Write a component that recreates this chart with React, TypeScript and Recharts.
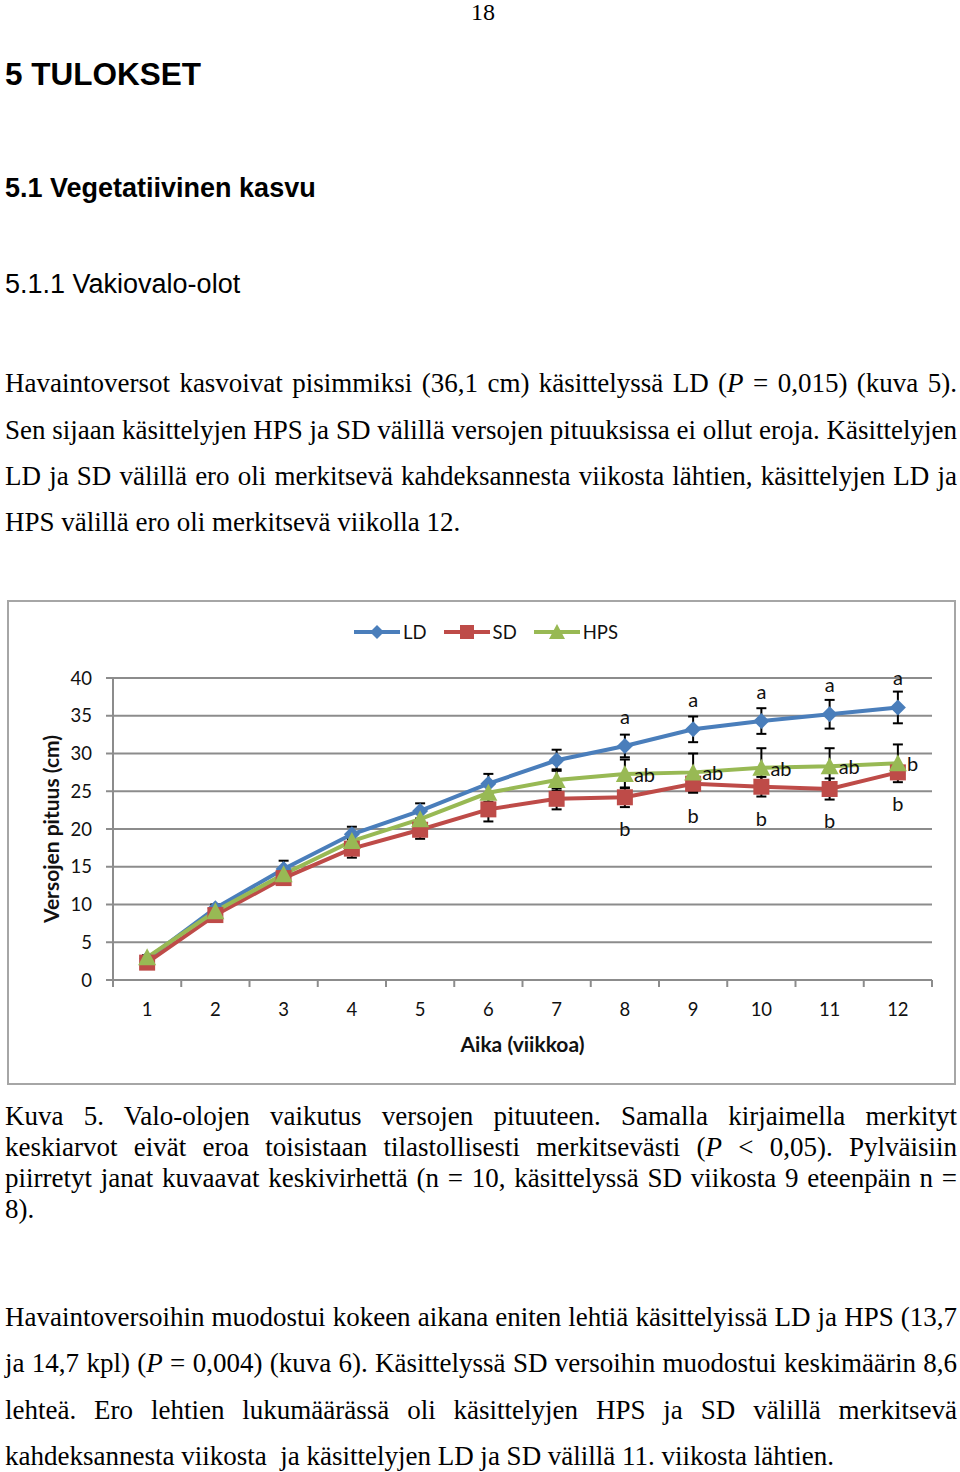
import React from 'react';
import { LineChart, Line, XAxis, YAxis, CartesianGrid, ErrorBar, LabelList, Legend } from 'recharts';

const weeks = [1, 2, 3, 4, 5, 6, 7, 8, 9, 10, 11, 12];
const ldValues = [2.8, 9.5, 14.7, 19.3, 22.4, 26.0, 29.1, 31.0, 33.2, 34.3, 35.2, 36.1];
const sdValues = [2.3, 8.6, 13.5, 17.4, 19.9, 22.6, 24.0, 24.2, 26.0, 25.6, 25.3, 27.5];
const hpsValues = [3.0, 9.1, 14.0, 18.4, 21.3, 24.8, 26.5, 27.3, 27.5, 28.1, 28.3, 28.7];
const ldErrors = [0.3, 0.5, 1.1, 1.0, 1.0, 1.3, 1.4, 1.5, 1.7, 1.7, 1.9, 2.1];
const sdErrors = [0.3, 0.5, 0.8, 1.2, 1.2, 1.6, 1.4, 1.3, 1.2, 1.3, 1.4, 0.8];
const hpsErrors = [0.3, 0.5, 0.8, 1.0, 1.1, 1.2, 1.4, 1.9, 2.5, 2.6, 2.4, 2.5];
const ldLetters = ['', '', '', '', '', '', '', 'a', 'a', 'a', 'a', 'a'];
const sdLetters = ['', '', '', '', '', '', '', 'b', 'b', 'b', 'b', 'b'];
const hpsLetters = ['', '', '', '', '', '', '', 'ab', 'ab', 'ab', 'ab', 'b'];
const seriesOrder = ['LD', 'SD', 'HPS'];
const yTicks = [0, 5, 10, 15, 20, 25, 30, 35, 40];
const xTicks = [0.5, 1, 1.5, 2, 2.5, 3, 3.5, 4, 4.5, 5, 5.5, 6, 6.5, 7, 7.5, 8, 8.5, 9, 9.5, 10, 10.5, 11, 11.5, 12, 12.5];

const data = weeks.map((w, i) => ({
  week: w,
  LD: ldValues[i],
  SD: sdValues[i],
  HPS: hpsValues[i],
  ldErr: ldErrors[i],
  sdErr: sdErrors[i],
  hpsErr: hpsErrors[i],
  ldLetter: ldLetters[i],
  sdLetter: sdLetters[i],
  hpsLetter: hpsLetters[i],
}));

const C_LD = '#4A7EBB';
const C_SD = '#BE4B48';
const C_HPS = '#98B954';
const GRID = '#8C8C8C';
const CHART_FONT = 'Lato, "Open Sans", sans-serif';

const shapes: Record<string, string> = { LD: 'diamond', SD: 'square', HPS: 'triangle' };

const Marker = ({ cx, cy, shape, color, s = 8 }: any) => {
  if (shape === 'diamond') {
    return <polygon points={`${cx},${cy - s} ${cx + s},${cy} ${cx},${cy + s} ${cx - s},${cy}`} fill={color} />;
  }
  if (shape === 'square') {
    return <rect x={cx - s} y={cy - s} width={2 * s} height={2 * s} fill={color} />;
  }
  return <polygon points={`${cx},${cy - s - 1} ${cx + s + 1},${cy + s} ${cx - s - 1},${cy + s}`} fill={color} />;
};

const makeDot = (shape: string, color: string) => (p: any) => (
  <Marker key={`${shape}-${p.index}`} cx={p.cx} cy={p.cy} shape={shape} color={color} />
);

const getXY = (p: any) => {
  const x = p.viewBox && p.viewBox.x !== undefined ? p.viewBox.x : p.x;
  const y = p.viewBox && p.viewBox.y !== undefined ? p.viewBox.y : p.y;
  return { x, y };
};

const labelStyle = { fontFamily: CHART_FONT, fontSize: 20, fill: '#111' };

const AboveLabel = (p: any) => {
  if (!p.value) return null;
  const { x, y } = getXY(p);
  return <text x={x} y={y - 30} textAnchor="middle" dominantBaseline="central" style={labelStyle}>{p.value}</text>;
};
const BelowLabel = (p: any) => {
  if (!p.value) return null;
  const { x, y } = getXY(p);
  return <text x={x} y={y + 31} textAnchor="middle" dominantBaseline="central" style={labelStyle}>{p.value}</text>;
};
const RightLabel = (p: any) => {
  if (!p.value) return null;
  const { x, y } = getXY(p);
  return <text x={x + 9} y={y} textAnchor="start" dominantBaseline="central" style={labelStyle}>{p.value}</text>;
};

const XTick = (p: any) => {
  const { x, y, payload } = p;
  const v = payload.value;
  if (Number.isInteger(v)) {
    return <text x={x} y={y + 29} textAnchor="middle" dominantBaseline="central" style={{ fontFamily: CHART_FONT, fontSize: 18.5, fill: '#111' }}>{v}</text>;
  }
  return <line x1={x} y1={y} x2={x} y2={y + 7} stroke={GRID} strokeWidth={2} />;
};

const LegendContent = (props: any) => {
  const payload = [...(props.payload || [])].sort(
    (a: any, b: any) => seriesOrder.indexOf(a.value) - seriesOrder.indexOf(b.value)
  );
  return (
    <div style={{ display: 'flex', justifyContent: 'center', alignItems: 'center', height: 24, paddingLeft: 26, fontFamily: CHART_FONT, fontSize: 18.5, color: '#111' }}>
      {payload.map((p: any) => (
        <div key={p.value} style={{ display: 'flex', alignItems: 'center', marginRight: 17 }}>
          <svg width={46} height={20} style={{ display: 'block' }}>
            <line x1={0} y1={10} x2={46} y2={10} stroke={p.color} strokeWidth={4} />
            <Marker cx={23} cy={10} shape={shapes[p.value]} color={p.color} s={7} />
          </svg>
          <span style={{ marginLeft: 3 }}>{p.value}</span>
        </div>
      ))}
    </div>
  );
};

const textLine = (center: number, lh: number) => ({
  position: 'absolute' as const,
  left: 5,
  width: 952,
  top: center - lh / 2,
  height: lh,
  lineHeight: `${lh}px`,
  fontFamily: '"Liberation Serif", "Times New Roman", serif',
  fontSize: 27,
  color: '#000',
  textAlign: 'justify' as const,
  whiteSpace: 'nowrap' as const,
  overflow: 'visible',
});

const JL = ({ c, lh, last, children }: any) => (
  <div style={{ ...textLine(c, lh), textAlignLast: last ? 'left' : 'justify' } as any}>{children}</div>
);

const P = () => <i>P</i>;

export default function App() {
  return (
    <div style={{ position: 'absolute', left: 0, top: 0, width: 960, height: 1472, background: '#fff', overflow: 'hidden' }}>
      <div style={{ position: 'absolute', left: 0, width: 966, top: 0, textAlign: 'center', fontFamily: '"Liberation Serif", serif', fontSize: 24, lineHeight: '24px' }}>18</div>
      <div style={{ position: 'absolute', left: 5, top: 54, fontFamily: '"Liberation Sans", Arial, sans-serif', fontWeight: 'bold', fontSize: 31.5, lineHeight: '40px' }}>5 TULOKSET</div>
      <div style={{ position: 'absolute', left: 5, top: 171, fontFamily: '"Liberation Sans", Arial, sans-serif', fontWeight: 'bold', fontSize: 27, lineHeight: '34px' }}>5.1 Vegetatiivinen kasvu</div>
      <div style={{ position: 'absolute', left: 5, top: 267, fontFamily: '"Liberation Sans", Arial, sans-serif', fontSize: 27, lineHeight: '34px' }}>5.1.1 Vakiovalo-olot</div>

      <JL c={383} lh={46}>Havaintoversot kasvoivat pisimmiksi (36,1 cm) käsittelyssä LD (<P /> = 0,015) (kuva 5).</JL>
      <JL c={430} lh={46}>Sen sijaan käsittelyjen HPS ja SD välillä versojen pituuksissa ei ollut eroja. Käsittelyjen</JL>
      <JL c={476} lh={46}>LD ja SD välillä ero oli merkitsevä kahdeksannesta viikosta lähtien, käsittelyjen LD ja</JL>
      <JL c={522} lh={46} last>HPS välillä ero oli merkitsevä viikolla 12.</JL>

      <div style={{ position: 'absolute', left: 7, top: 600, width: 945, height: 481, border: '2px solid #A6A6A6', boxSizing: 'content-box' }} />
      <div style={{ position: 'absolute', left: 7, top: 600 }}>
        <LineChart width={949} height={485} data={data} margin={{ top: 54, right: 24, bottom: 35, left: 46 }}>
          <CartesianGrid vertical={false} stroke={GRID} strokeWidth={2} />
          <Legend verticalAlign="top" align="center" content={<LegendContent />} wrapperStyle={{ top: 20, left: 0, width: 949 }} />
          <XAxis
            dataKey="week"
            type="number"
            domain={[0.5, 12.5]}
            ticks={xTicks}
            interval={0}
            tick={<XTick />}
            tickLine={false}
            tickSize={0}
            tickMargin={0}
            axisLine={{ stroke: GRID, strokeWidth: 2 }}
            height={70}
            label={{
              content: (p: any) => {
                const vb = p.viewBox || {};
                return (
                  <text x={vb.x + vb.width / 2} y={vb.y + 63} textAnchor="middle" dominantBaseline="central" style={{ fontFamily: CHART_FONT, fontSize: 21, fontWeight: 'bold', fill: '#111' }}>Aika (viikkoa)</text>
                );
              },
            }}
          />
          <YAxis
            type="number"
            domain={[0, 40]}
            ticks={yTicks}
            interval={0}
            width={60}
            tickSize={7}
            tickMargin={14}
            tickLine={{ stroke: GRID, strokeWidth: 2 }}
            axisLine={{ stroke: GRID, strokeWidth: 2 }}
            tick={{ fontFamily: CHART_FONT, fontSize: 18.5, fill: '#111' }}
            label={{
              content: (p: any) => {
                const vb = p.viewBox || {};
                const cx = vb.x - 3;
                const cy = vb.y + vb.height / 2;
                return (
                  <text x={cx} y={cy} transform={`rotate(-90, ${cx}, ${cy})`} textAnchor="middle" dominantBaseline="central" style={{ fontFamily: CHART_FONT, fontSize: 21, fontWeight: 'bold', fill: '#111' }}>Versojen pituus (cm)</text>
                );
              },
            }}
          />
          <Line dataKey="LD" name="LD" stroke={C_LD} strokeWidth={4} dot={makeDot('diamond', C_LD)} activeDot={false} isAnimationActive={false}>
            <ErrorBar dataKey="ldErr" width={5} strokeWidth={2} stroke="#000" direction="y" />
            <LabelList dataKey="ldLetter" content={<AboveLabel />} />
          </Line>
          <Line dataKey="SD" name="SD" stroke={C_SD} strokeWidth={4} dot={makeDot('square', C_SD)} activeDot={false} isAnimationActive={false}>
            <ErrorBar dataKey="sdErr" width={5} strokeWidth={2} stroke="#000" direction="y" />
            <LabelList dataKey="sdLetter" content={<BelowLabel />} />
          </Line>
          <Line dataKey="HPS" name="HPS" stroke={C_HPS} strokeWidth={4} dot={makeDot('triangle', C_HPS)} activeDot={false} isAnimationActive={false}>
            <ErrorBar dataKey="hpsErr" width={5} strokeWidth={2} stroke="#000" direction="y" />
            <LabelList dataKey="hpsLetter" content={<RightLabel />} />
          </Line>
        </LineChart>
      </div>

      <JL c={1116} lh={31}>Kuva 5. Valo-olojen vaikutus versojen pituuteen. Samalla kirjaimella merkityt</JL>
      <JL c={1147} lh={31}>keskiarvot eivät eroa toisistaan tilastollisesti merkitsevästi (<P /> &lt; 0,05). Pylväisiin</JL>
      <JL c={1178} lh={31}>piirretyt janat kuvaavat keskivirhettä (n = 10, käsittelyssä SD viikosta 9 eteenpäin n =</JL>
      <JL c={1209} lh={31} last>8).</JL>

      <JL c={1317} lh={46}>Havaintoversoihin muodostui kokeen aikana eniten lehtiä käsittelyissä LD ja HPS (13,7</JL>
      <JL c={1363} lh={46}>ja 14,7 kpl) (<P /> = 0,004) (kuva 6). Käsittelyssä SD versoihin muodostui keskimäärin 8,6</JL>
      <JL c={1410} lh={46}>lehteä. Ero lehtien lukumäärässä oli käsittelyjen HPS ja SD välillä merkitsevä</JL>
      <JL c={1456} lh={46} last>kahdeksannesta viikosta&nbsp; ja käsittelyjen LD ja SD välillä 11. viikosta lähtien.</JL>
    </div>
  );
}
